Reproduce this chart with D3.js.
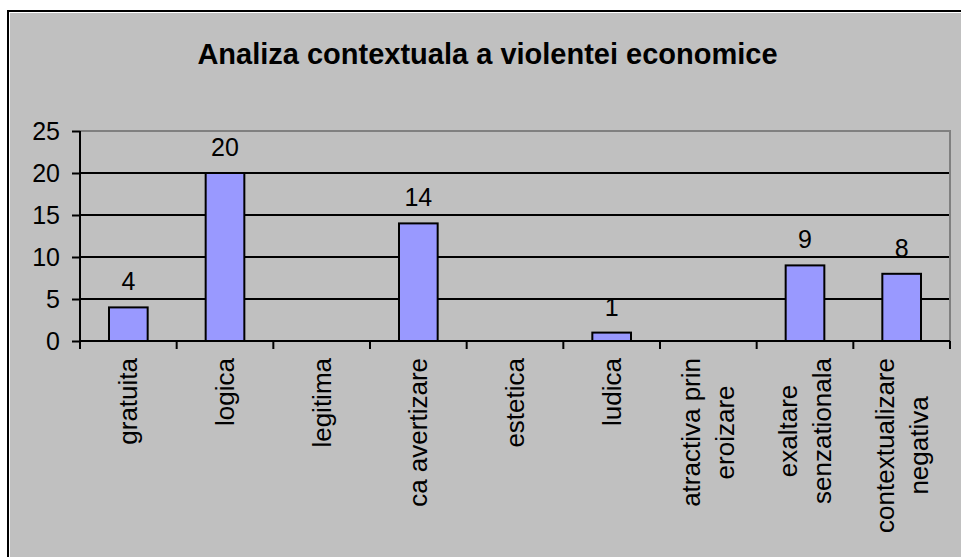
<!DOCTYPE html>
<html><head><meta charset="utf-8">
<script src="https://cdnjs.cloudflare.com/ajax/libs/d3/7.8.5/d3.min.js"></script>
<style>html,body{margin:0;padding:0;background:#fff;}svg{display:block;}</style>
</head><body>
<svg id="chart" width="961" height="557"></svg>
<script>
const title = "Analiza contextuala a violentei economice";
const categories = [
  ["gratuita"], ["logica"], ["legitima"], ["ca avertizare"], ["estetica"],
  ["ludica"], ["atractiva prin", "eroizare"], ["exaltare", "senzationala"],
  ["contextualizare", "negativa"]
];
const values = [4, 20, 0, 14, 0, 1, 0, 9, 8];
const yTicks = [0, 5, 10, 15, 20, 25];

const font = "'Liberation Sans', Arial, Helvetica, sans-serif";
const svg = d3.select("#chart");
const W = 961, H = 557;

// chart area border & background
svg.append("rect").attr("x", 7).attr("y", 10).attr("width", W).attr("height", H).attr("fill", "#000");
svg.append("rect").attr("x", 9).attr("y", 12).attr("width", W).attr("height", H).attr("fill", "#fff");
svg.append("rect").attr("x", 10).attr("y", 13).attr("width", W).attr("height", H).attr("fill", "#c0c0c0");

const plot = {left: 80, right: 950, top: 131, bottom: 341};
const keys = categories.map((c, i) => i);
const x = d3.scaleBand().domain(keys).range([plot.left, plot.right]).paddingInner(0.6).paddingOuter(0.3);
const y = d3.scaleLinear().domain([0, 25]).range([plot.bottom, plot.top]);

// title
svg.append("text").attr("x", 487.5).attr("y", 64).attr("text-anchor", "middle")
  .attr("font-family", font).attr("font-size", 29).attr("font-weight", "bold").attr("fill", "#000").text(title);

// gridlines
svg.append("g").selectAll("line").data(yTicks.filter(t => t > 0 && t < 25)).join("line")
  .attr("x1", plot.left).attr("x2", plot.right).attr("y1", d => y(d)).attr("y2", d => y(d))
  .attr("stroke", "#000").attr("stroke-width", 2);
// plot area border (top & right)
svg.append("path").attr("d", `M${plot.left},${y(25)}H${plot.right}V${plot.bottom}`)
  .attr("fill", "none").attr("stroke", "#808080").attr("stroke-width", 2);

// bars
svg.append("g").selectAll("rect").data(values.map((v, i) => ({v, i})).filter(d => d.v > 0)).join("rect")
  .attr("x", d => x(d.i)).attr("width", x.bandwidth())
  .attr("y", d => y(d.v)).attr("height", d => y(0) - y(d.v))
  .attr("fill", "#9999ff").attr("stroke", "#000").attr("stroke-width", 2);

// data labels
svg.append("g").selectAll("text").data(values.map((v, i) => ({v, i})).filter(d => d.v > 0)).join("text")
  .attr("x", d => x(d.i) + x.bandwidth() / 2).attr("y", d => y(d.v) - 17)
  .attr("text-anchor", "middle").attr("font-family", font).attr("font-size", 25).attr("fill", "#000")
  .text(d => d.v);

// y axis
const yAxis = d3.axisLeft(y).tickValues(yTicks).tickSize(8).tickPadding(12);
const gy = svg.append("g").attr("transform", `translate(${plot.left},0)`).call(yAxis);
gy.select(".domain").attr("stroke", "#000").attr("stroke-width", 2).attr("d", `M0,${plot.top}V${plot.bottom}`);
gy.selectAll(".tick line").attr("stroke", "#000").attr("stroke-width", 2);
gy.selectAll(".tick text").attr("font-family", font).attr("font-size", 25).attr("fill", "#000");

// x axis line and boundary ticks
const step = x.step();
const bounds = d3.range(categories.length + 1).map(i => plot.left + i * step);
svg.append("line").attr("x1", plot.left).attr("x2", plot.right).attr("y1", y(0)).attr("y2", y(0))
  .attr("stroke", "#000").attr("stroke-width", 2);
svg.append("g").selectAll("line").data(bounds).join("line")
  .attr("x1", d => d).attr("x2", d => d).attr("y1", y(0)).attr("y2", y(0) + 8)
  .attr("stroke", "#000").attr("stroke-width", 2);

// category labels (rotated)
const labelTop = 358, lineGap = 34;
categories.forEach((lines, i) => {
  const cx = x(i) + x.bandwidth() / 2;
  const g = svg.append("g").attr("transform", `translate(${cx},${labelTop}) rotate(-90)`);
  const texts = lines.map((ln, j) => g.append("text")
    .attr("text-anchor", "middle").attr("font-family", font).attr("font-size", 26).attr("fill", "#000")
    .attr("y", (j - (lines.length - 1) / 2) * lineGap + 9).text(ln));
  const maxLen = d3.max(texts, t => t.node().getComputedTextLength());
  texts.forEach(t => t.attr("x", -maxLen / 2));
});
</script>
</body></html>
